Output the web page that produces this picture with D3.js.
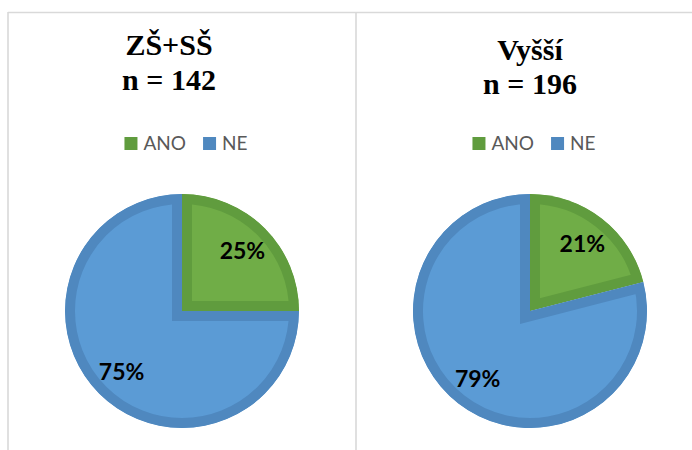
<!DOCTYPE html>
<html>
<head>
<meta charset="utf-8">
<script src="https://cdn.jsdelivr.net/npm/d3@7"></script>
<style>
  body { margin: 0; background: #fff; }
  svg { display: block; }
</style>
</head>
<body>
<div id="chart"></div>
<script>
// data
let categories = ["ANO", "NE"];
let panelTitles = ["ZŠ+SŠ", "Vyšší"];
let panelN = [142, 196];
let valuesZSSS = [25, 75];
let valuesVyssi = [21, 79];
let panelValues = [valuesZSSS, valuesVyssi];

let width = 692, height = 450;
let radius = 117;
let band = 20;   // darker inner border of each slice (clipped to half)

let fillColor = d3.scaleOrdinal().domain(categories).range(["#70ad47", "#5b9bd5"]);
let edgeColor = d3.scaleOrdinal().domain(categories).range(["#609c3e", "#4f88bf"]);

// one column per panel
let xPanel = d3.scaleBand().domain(panelTitles).range([8, 704]);

let svg = d3.select("#chart").append("svg")
    .attr("width", width).attr("height", height);

/* panel frames */
svg.append("line").attr("x1", 8).attr("x2", width).attr("y1", 12.5).attr("y2", 12.5)
    .attr("stroke", "#d9d9d9").attr("stroke-width", 1.6);
panelTitles.forEach(function(t) {
    svg.append("line").attr("x1", xPanel(t)).attr("x2", xPanel(t)).attr("y1", 12).attr("y2", height)
        .attr("stroke", "#d9d9d9").attr("stroke-width", 1.6);
});

let pie = d3.pie().sort(null).value(function(d) { return d.value; });
let arc = d3.arc().innerRadius(0).outerRadius(radius);
let labelArc = d3.arc().innerRadius(radius * 0.73).outerRadius(radius * 0.73);

panelTitles.forEach(function(title, p) {
    let cx = xPanel(title) + xPanel.bandwidth() / 2;
    let g = svg.append("g").attr("class", "panel");

    // title, two lines
    let tt = g.append("text")
        .attr("text-anchor", "middle")
        .style("font-family", "'Liberation Serif', 'Times New Roman', serif")
        .style("font-weight", "bold")
        .style("font-size", "30px")
        .attr("fill", "#000");
    tt.append("tspan").attr("x", cx - (p === 0 ? 13 : 0)).attr("y", p === 0 ? 55 : 60).text(title);
    tt.append("tspan").attr("x", cx - (p === 0 ? 13 : 0)).attr("y", p === 0 ? 90 : 94).text("n = " + panelN[p]);

    // legend
    let leg = g.append("g").attr("class", "legend");
    let lx = 0;
    categories.forEach(function(c, i) {
        leg.append("rect").attr("x", lx).attr("y", 137).attr("width", 13).attr("height", 13)
            .attr("fill", edgeColor(c));
        let txt = leg.append("text").attr("x", lx + 19).attr("y", 150)
            .style("font-family", "Lato, 'Open Sans', sans-serif")
            .style("font-size", "19px")
            .attr("fill", "#595959")
            .text(c);
        lx += 19 + txt.node().getComputedTextLength() + 17;
    });
    let lw = lx - 17;
    leg.attr("transform", "translate(" + (cx + 4 - lw / 2) + ",0)");

    // pie
    let data = categories.map(function(c, i) { return {key: c, value: panelValues[p][i]}; });
    let total = d3.sum(data, function(d) { return d.value; });
    let pg = g.append("g").attr("transform", "translate(" + cx + ",311)");
    pie(data).forEach(function(d, i) {
        let id = "clip" + p + "_" + i;
        pg.append("clipPath").attr("id", id).append("path").attr("d", arc(d));
        pg.append("path")
            .attr("d", arc(d))
            .attr("fill", fillColor(d.data.key))
            .attr("stroke", edgeColor(d.data.key))
            .attr("stroke-width", band)
            .attr("stroke-linejoin", "miter")
            .attr("clip-path", "url(#" + id + ")");
    });
    pg.selectAll(".lbl")
        .data(pie(data))
        .enter().append("text")
        .attr("class", "lbl")
        .attr("transform", function(d) { return "translate(" + labelArc.centroid(d) + ")"; })
        .attr("text-anchor", "middle")
        .attr("dy", "0.36em")
        .style("font-family", "Lato, 'Open Sans', sans-serif")
        .style("font-weight", "bold")
        .style("font-size", "23px")
        .attr("fill", "#000")
        .text(function(d) { return Math.round(d.data.value / total * 100) + "%"; });
});
</script>
</body>
</html>
